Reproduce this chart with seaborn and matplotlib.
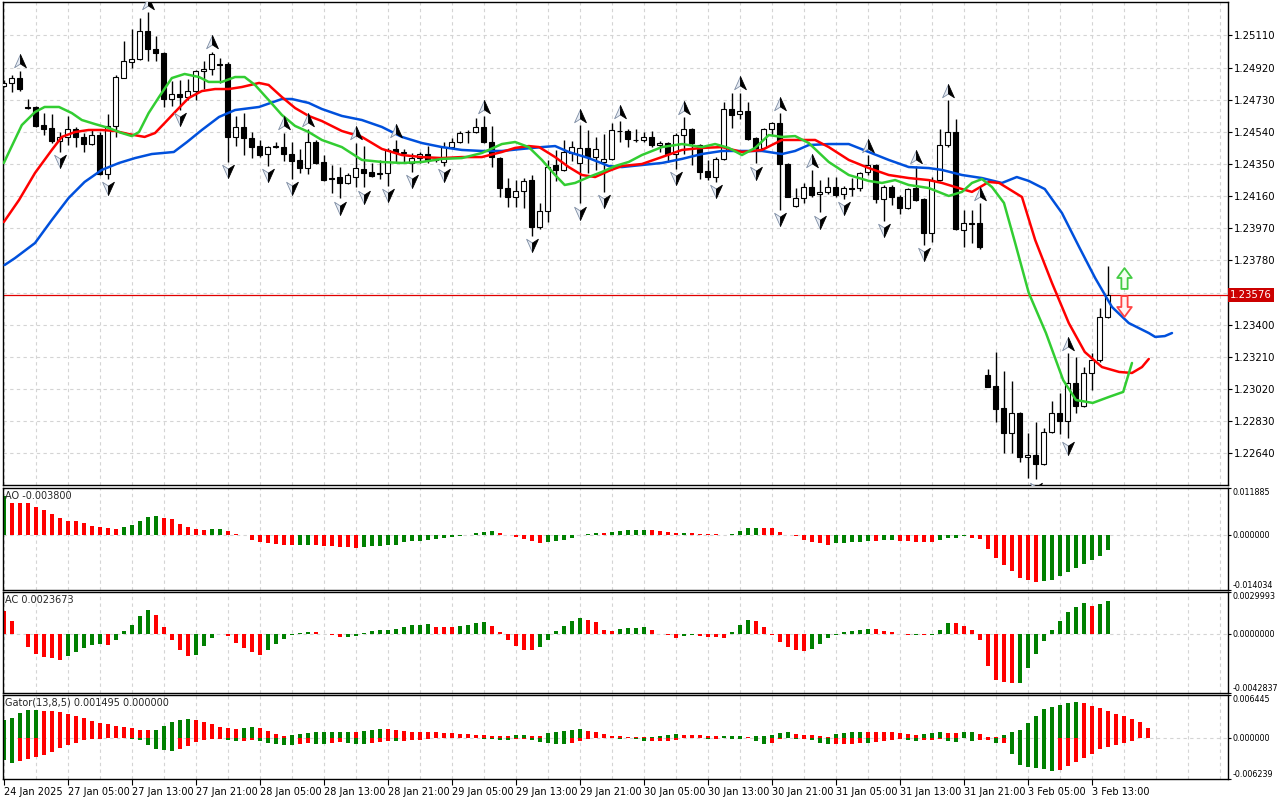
import numpy as np
import matplotlib
matplotlib.use("Agg")
import matplotlib.pyplot as plt
import matplotlib.transforms as mtransforms
from matplotlib.path import Path
import seaborn as sns

# ---------------- data (H1 bars, prices in points: 1 pt = 0.00001) ----------------
open_pts = [124811, 124826, 124856, 124689, 124685, 124580, 124561, 124488, 124507, 124555,
            124507, 124466, 124521, 124289, 124574, 124860, 124955, 124968, 125136, 125027,
            125004, 124732, 124761, 124748, 124781, 124899, 124911, 124941, 124941, 124511,
            124566, 124505, 124458, 124407, 124456, 124452, 124409, 124373, 124324, 124482,
            124364, 124268, 124272, 124236, 124272, 124321, 124301, 124289, 124299, 124437,
            124413, 124354, 124384, 124408, 124382, 124364, 124453, 124478, 124538, 124538,
            124571, 124482, 124384, 124207, 124153, 124191, 124256, 123976, 124075, 124344,
            124315, 124417, 124354, 124443, 124390, 124364, 124378, 124545, 124545, 124494,
            124492, 124512, 124463, 124476, 124410, 124520, 124555, 124463, 124309, 124272,
            124380, 124673, 124646, 124666, 124502, 124443, 124555, 124595, 124350, 124104,
            124147, 124216, 124173, 124187, 124216, 124173, 124209, 124207, 124305, 124344,
            124142, 124216, 124157, 124088, 124207, 124142, 123941, 124256, 124463, 124541,
            123960, 124002, 124003, 123103, 123038, 122906, 122762, 122877, 122617, 122630,
            122577, 122768, 122880, 122833, 123057, 122920, 123117, 123192, 123444]
high_pts = [124846, 124876, 124901, 124732, 124692, 124653, 124643, 124541, 124633, 124570,
            124531, 124551, 124541, 124643, 124876, 125077, 125146, 125211, 125248, 125106,
            125014, 124840, 124846, 124850, 124905, 124958, 125014, 124974, 124955, 124633,
            124653, 124541, 124492, 124456, 124482, 124535, 124482, 124436, 124555, 124492,
            124404, 124344, 124335, 124295, 124476, 124457, 124358, 124374, 124443, 124492,
            124437, 124413, 124423, 124457, 124394, 124482, 124502, 124547, 124551, 124620,
            124634, 124575, 124390, 124266, 124256, 124266, 124285, 124122, 124374, 124433,
            124492, 124488, 124581, 124551, 124512, 124528, 124591, 124604, 124555, 124555,
            124541, 124547, 124486, 124482, 124532, 124626, 124561, 124469, 124374, 124394,
            124719, 124768, 124772, 124719, 124508, 124565, 124600, 124650, 124354, 124207,
            124240, 124315, 124256, 124276, 124276, 124220, 124266, 124305, 124404, 124350,
            124226, 124226, 124167, 124207, 124339, 124147, 124276, 124555, 124729, 124614,
            124080, 124080, 124118, 123137, 123241, 123128, 123069, 122883, 122762, 122827,
            122788, 122951, 122998, 123231, 123208, 123152, 123235, 123497, 123747]
low_pts = [124803, 124777, 124783, 124677, 124566, 124521, 124476, 124423, 124462, 124452,
           124423, 124462, 124285, 124261, 124511, 124856, 124915, 124964, 124958, 124958,
           124689, 124692, 124669, 124728, 124728, 124791, 124876, 124830, 124364, 124456,
           124403, 124387, 124393, 124340, 124442, 124370, 124261, 124295, 124291, 124350,
           124252, 124181, 124147, 124232, 124216, 124212, 124276, 124260, 124220, 124364,
           124364, 124305, 124354, 124354, 124364, 124339, 124449, 124473, 124476, 124532,
           124473, 124335, 124157, 124098, 124098, 124088, 123927, 123964, 124010, 124252,
           124311, 124370, 124118, 124295, 124315, 124187, 124374, 124482, 124449, 124478,
           124482, 124449, 124423, 124364, 124321, 124410, 124344, 124260, 124256, 124246,
           124374, 124561, 124614, 124492, 124354, 124437, 124522, 124078, 124153, 124094,
           124118, 124157, 124065, 124173, 124157, 124142, 124161, 124193, 124285, 124118,
           124016, 124108, 124055, 124082, 124134, 123872, 123891, 124252, 124453, 123960,
           123858, 123881, 123850, 123030, 122827, 122644, 122644, 122591, 122493, 122487,
           122570, 122760, 122754, 122729, 122880, 122916, 123014, 123182, 123438]
close_pts = [124830, 124856, 124791, 124683, 124576, 124559, 124488, 124511, 124555, 124507,
             124466, 124521, 124289, 124574, 124862, 124958, 124968, 125136, 125027, 125004,
             124732, 124761, 124744, 124781, 124899, 124911, 125000, 124935, 124511, 124566,
             124505, 124452, 124403, 124452, 124450, 124407, 124370, 124324, 124482, 124358,
             124256, 124264, 124236, 124285, 124329, 124299, 124281, 124299, 124433, 124419,
             124421, 124384, 124408, 124374, 124376, 124453, 124482, 124535, 124541, 124571,
             124482, 124394, 124207, 124153, 124191, 124252, 123976, 124075, 124335, 124315,
             124419, 124453, 124443, 124394, 124437, 124378, 124551, 124543, 124496, 124490,
             124512, 124463, 124476, 124410, 124520, 124555, 124473, 124305, 124272, 124380,
             124673, 124640, 124666, 124496, 124443, 124555, 124591, 124350, 124157, 124147,
             124216, 124167, 124187, 124216, 124167, 124207, 124205, 124299, 124344, 124142,
             124212, 124157, 124088, 124201, 124138, 123941, 124256, 124463, 124541, 123964,
             124004, 123998, 123858, 123034, 122900, 122762, 122877, 122617, 122630, 122577,
             122768, 122880, 122833, 123057, 122920, 123117, 123192, 123444, 123576]

# Alligator lines (bar position, price in points), shifted forward 8/5/3 bars
jaw_bar = [0.1, 1.4, 3.9, 6.0, 8.1, 10.1, 12.25, 14.4, 16.4, 18.5, 21.25, 22.9, 24.75, 26.9, 28.9,
           31.9, 34.75, 36, 38.1, 39.75, 42.25, 44.75, 47.25, 49.75, 52.25, 54.75, 57.25, 59.75,
           62.25, 64.75, 67.25, 68.9, 70.6, 73.1, 75.6, 77.25, 79.75, 82.25, 84.75, 87.25, 89.75,
           92.25, 94.75, 97.25, 98.9, 100.6, 103.1, 105.6, 108.1, 110.6, 113.1, 115.6, 117.25,
           119.75, 122.25, 124.75, 126.6, 128.1, 130.1, 132.25, 134.4, 136.4, 138.5, 140.6, 143.1,
           143.9, 145.1, 146]
jaw_pts = [123753, 123794, 123883, 124019, 124149, 124244, 124315, 124356, 124385, 124409, 124421,
           124480, 124551, 124628, 124669, 124687, 124734, 124734, 124711, 124675, 124634, 124610,
           124569, 124510, 124474, 124450, 124433, 124427, 124427, 124439, 124450, 124456, 124421,
           124385, 124338, 124332, 124344, 124356, 124380, 124409, 124427, 124427, 124427, 124409,
           124427, 124462, 124468, 124468, 124421, 124374, 124332, 124326, 124315, 124285, 124267,
           124238, 124273, 124250, 124202, 124060, 123859, 123676, 123505, 123410, 123351, 123328,
           123333, 123351]
teeth_bar = [0, 1.9, 3.9, 6, 7.25, 8.9, 10.6, 12.25, 13.9, 15.6, 17.6, 18.9, 20.1, 21.4, 23.1,
             24.75, 26.4, 28.1, 29.75, 31.9, 33.1, 34.75, 36.4, 38.1, 39.75, 42.25, 44.75, 47.25,
             49.75, 52.25, 54.75, 57.25, 59.75, 62.25, 63.9, 65.6, 66.9, 68.9, 70.6, 72.25, 73.9,
             75.6, 77.25, 79.75, 82.25, 84.75, 87.25, 89.75, 92.25, 94.75, 97.25, 99.75, 101.4,
             103.1, 105.6, 108.1, 110.6, 113.1, 115.6, 117.25, 119.75, 121, 123.1, 124.4, 127.25,
             128.9, 131, 133.1, 135.1, 137.25, 139.4, 141, 142.25, 143.1]
teeth_pts = [124007, 124137, 124297, 124433, 124510, 124539, 124551, 124551, 124545, 124527,
             124510, 124533, 124592, 124657, 124740, 124781, 124793, 124793, 124805, 124829,
             124817, 124746, 124681, 124634, 124604, 124545, 124510, 124439, 124403, 124391,
             124385, 124391, 124391, 124421, 124445, 124456, 124450, 124391, 124332, 124285,
             124273, 124309, 124338, 124350, 124391, 124433, 124445, 124450, 124421, 124433,
             124492, 124492, 124492, 124450, 124374, 124326, 124285, 124267, 124255, 124238,
             124202, 124185, 124244, 124238, 124155, 123901, 123647, 123410, 123239, 123150,
             123121, 123115, 123150, 123198]
lips_bar = [0, 2.25, 3.9, 5.1, 6.9, 8.5, 9.75, 11.4, 13.1, 14.75, 16, 16.9, 18.1, 19.4, 21, 22.6,
            24.4, 25.6, 27.25, 28.9, 30.1, 31.4, 33.1, 34.75, 36.4, 38.1, 39.75, 42.25, 44.75,
            47.25, 49.75, 52.25, 54.75, 57.25, 59.75, 62.25, 63.9, 65.6, 67.25, 68.9, 70.1, 71.4,
            73.1, 74.75, 76.4, 78.1, 79.75, 82.25, 84.75, 87.25, 88.9, 90.6, 92.25, 93.9, 95.6,
            97.25, 98.9, 100.6, 103.1, 105.6, 108.1, 109.75, 111.4, 113.1, 115.6, 118.1, 119.75,
            121, 122.25, 123.5, 125, 126.4, 128.1, 130.25, 132.4, 134, 136.1, 138.1, 139.9, 141]
lips_pts = [124356, 124580, 124657, 124687, 124687, 124651, 124610, 124586, 124563, 124533,
            124515, 124539, 124651, 124746, 124858, 124882, 124864, 124835, 124835, 124864,
            124864, 124817, 124728, 124640, 124575, 124539, 124492, 124450, 124374, 124362,
            124356, 124362, 124380, 124385, 124415, 124468, 124480, 124450, 124374, 124285,
            124226, 124238, 124273, 124303, 124338, 124362, 124403, 124450, 124468, 124450,
            124468, 124445, 124403, 124445, 124521, 124510, 124515, 124474, 124362, 124285,
            124250, 124238, 124255, 124226, 124208, 124161, 124185, 124238, 124261, 124214,
            124120, 123883, 123588, 123351, 123073, 122955, 122938, 122973, 123003, 123174]

up_fractals = [2, 18, 26, 35, 38, 44, 49, 60, 72, 77, 85, 92, 97, 101, 108, 114, 118, 122, 133]
down_fractals = [7, 13, 22, 28, 33, 36, 42, 45, 48, 51, 55, 66, 72, 75, 84, 89, 94, 97, 102,
                 105, 110, 115, 129, 133]

# buy / sell signal arrows next to the last bar (bar position, price)
buy_signal = (140, 1.23676)
sell_signal = (140, 1.23508)

ao = [0.0099, 0.0082, 0.0082, 0.0081, 0.0071, 0.0064, 0.0054, 0.0043, 0.0036, 0.0034,
      0.0029, 0.0023, 0.0020, 0.0016, 0.0015, 0.0021, 0.0025, 0.0036, 0.0046, 0.0048,
      0.0043, 0.0039, 0.0028, 0.0019, 0.0014, 0.0013, 0.0014, 0.00142, 0.0010, 0.0002,
      -0.0001, -0.0013, -0.0019, -0.0022, -0.0024, -0.0025, -0.00255, -0.0025, -0.00248, -0.0026,
      -0.0028, -0.00285, -0.0030, -0.00305, -0.0033, -0.0030, -0.0029, -0.0028, -0.0026, -0.0025,
      -0.0019, -0.0017, -0.0016, -0.0013, -0.0010, -0.0009, -0.0006, -0.0003, -0.0001, 0.0004,
      0.0008, 0.0010, 0.0004, -0.0001, -0.0006, -0.0011, -0.0015, -0.0021, -0.0019, -0.0016,
      -0.0013, -0.0007, -0.0001, 0.0003, 0.0004, 0.00038, 0.0006, 0.0009, 0.0011, 0.00112,
      0.0013, 0.00125, 0.0010, 0.0008, 0.0005, 0.00052, 0.00045, 0.0003, 0.0002, 0.0001,
      0.00005, 0.0003, 0.0010, 0.0016, 0.0018, 0.0017, 0.0016, 0.0008, -0.0001, -0.0003,
      -0.0013, -0.0019, -0.0022, -0.0025, -0.0022, -0.00215, -0.0019, -0.0018, -0.0016, -0.0017,
      -0.0014, -0.00135, -0.0016, -0.0017, -0.00172, -0.0018, -0.0019, -0.0014, -0.0008, -0.0007,
      -0.0004, -0.0008, -0.0011, -0.0036, -0.0058, -0.0076, -0.0093, -0.0111, -0.0116, -0.0119,
      -0.01185, -0.0114, -0.0106, -0.0094, -0.0085, -0.0074, -0.0065, -0.0053, -0.0038]
ac = [0.00166, 0.00094, -0.00002, -0.00098, -0.00146, -0.0017, -0.00178, -0.00192, -0.00163, -0.00134,
      -0.00103, -0.00084, -0.00072, -0.00079, -0.00048, 0.00022, 0.00065, 0.0013, 0.00173, 0.00137,
      0.00046, -0.00048, -0.00115, -0.00163, -0.00151, -0.00091, -0.00031, -0.00002, -0.00019, -0.00067,
      -0.00103, -0.00134, -0.00151, -0.0012, -0.00074, -0.00036, -0.00012, 0.00002, 0.0001, 0.00008,
      -0.00002, -0.00012, -0.00026, -0.00024, -0.00019, 0.00002, 0.00017, 0.00026, 0.00029, 0.00036,
      0.0005, 0.0006, 0.00062, 0.00072, 0.0005, 0.00047, 0.00046, 0.00053, 0.0006, 0.00079,
      0.0008, 0.00058, 0.0001, -0.00046, -0.00091, -0.00115, -0.0012, -0.00098, -0.00043, 0.00017,
      0.00058, 0.00094, 0.00113, 0.001, 0.00082, 0.00029, 0.00017, 0.00036, 0.00037, 0.00038,
      0.00046, 0.00024, -0.00002, -0.00012, -0.00034, -0.00019, -0.00007, -0.00019, -0.00022, -0.00024,
      -0.00029, 0.00014, 0.00065, 0.001, 0.00094, 0.0005, -0.00007, -0.00062, -0.00098, -0.00115,
      -0.00127, -0.00108, -0.00072, -0.00031, -0.00007, 0.0001, 0.00017, 0.00026, 0.00036, 0.00034,
      0.00022, 0.00014, 0.0, -0.0001, -0.00009, -0.00012, -0.00007, 0.00029, 0.00079, 0.00077,
      0.00058, 0.00024, -0.00048, -0.00235, -0.00336, -0.00352, -0.00357, -0.00356, -0.0025, -0.00149,
      -0.00053, 0.00029, 0.00089, 0.00158, 0.00194, 0.00218, 0.002, 0.00211, 0.00237]
gator_up = [0.0026, 0.0030, 0.0038, 0.0042, 0.00425, 0.0041, 0.0040, 0.0039, 0.0036, 0.0032,
            0.0029, 0.0025, 0.0022, 0.0020, 0.0018, 0.0016, 0.0015, 0.0012, 0.00115, 0.0012,
            0.0018, 0.0023, 0.0027, 0.00275, 0.0027, 0.0024, 0.0020, 0.0016, 0.0014, 0.00138,
            0.0014, 0.0016, 0.0014, 0.0010, 0.0006, 0.00025, 0.0004, 0.0006, 0.00075, 0.0008,
            0.00085, 0.00087, 0.0009, 0.00092, 0.00088, 0.0010, 0.0011, 0.0013, 0.00125, 0.0011,
            0.00095, 0.00093, 0.0009, 0.00088, 0.0008, 0.0007, 0.00065, 0.00055, 0.0005, 0.00045,
            0.00035, 0.0003, 0.0002, 0.00018, 0.00035, 0.00036, 0.00025, 0.0002, 0.0007, 0.0009,
            0.00095, 0.0011, 0.00125, 0.0010, 0.0008, 0.0005, 0.0002, 0.00018, 0.00015, 0.0001,
            0.00005, 0.00015, 0.0003, 0.00045, 0.0006, 0.00045, 0.00044, 0.00043, 0.0003, 0.00028,
            0.0003, 0.00031, 0.00032, 0.00015, 0.0003, 0.00032, 0.00045, 0.00075, 0.0009, 0.0006,
            0.00045, 0.00042, 0.0003, 0.00015, 0.0006, 0.00075, 0.0009, 0.00092, 0.0009, 0.00088,
            0.00086, 0.00085, 0.00075, 0.0006, 0.00045, 0.0006, 0.00075, 0.0009, 0.00075, 0.0007,
            0.0009, 0.00092, 0.0006, 0.00005, 0.00003, 0.00045, 0.0009, 0.0011, 0.0022, 0.0033,
            0.0043, 0.0046, 0.0049, 0.0052, 0.0054, 0.0052, 0.0048, 0.0045, 0.0040, 0.0036,
            0.0033, 0.0028, 0.0024, 0.0015]
gator_down = [-0.0033, -0.0038, -0.0035, -0.0032, -0.0029, -0.0026, -0.0021, -0.0016, -0.0011, -0.00085,
              -0.00035, -0.00025, -0.00015, -0.0001, -0.00008, -0.00005, -0.00025, -0.0003, -0.0011, -0.0017,
              -0.0019, -0.0020, -0.0017, -0.0013, -0.00065, -0.0003, -0.00025, -0.00015, -0.0004, -0.00055,
              -0.00045, -0.00035, -0.00055, -0.00075, -0.0009, -0.0011, -0.00112, -0.0009, -0.00075, -0.0009,
              -0.0010, -0.00075, -0.0006, -0.00075, -0.00095, -0.0010, -0.00075, -0.0006, -0.0005, -0.00055,
              -0.00045, -0.0004, -0.0003, -0.00015, -0.0001, -0.00008, -0.00005, -0.00004, -0.00003, -0.0001,
              -0.00025, -0.00026, -0.00035, -0.00036, -0.00025, -0.00015, -0.0004, -0.00065, -0.00085, -0.0009,
              -0.0010, -0.00085, -0.00045, -0.00025, -0.0001, -0.00005, -0.0001, -0.00025, -0.0001, -0.00025,
              -0.00055, -0.00054, -0.00053, -0.00052, -0.0003, -0.00008, -0.00005, -0.00004, -0.0002, -0.00019,
              -0.00005, -0.00025, -0.00026, -0.00005, -0.00055, -0.0009, -0.00075, -0.0002, -0.0001, -0.00025,
              -0.0002, -0.0004, -0.00085, -0.0010, -0.0009, -0.00089, -0.00088, -0.00075, -0.00078, -0.0006,
              -0.00045, -0.0003, -0.00025, -0.0004, -0.00055, -0.0004, -0.0003, -0.0002, -0.00055, -0.0007,
              -0.0001, -0.00055, -0.0004, -0.00035, -0.00085, -0.0008, -0.0025, -0.0041, -0.0045, -0.0046,
              -0.0048, -0.0050, -0.0049, -0.0043, -0.0037, -0.0030, -0.0024, -0.0017, -0.0014, -0.0011,
              -0.0008, -0.00055]

price_ticks = [1.25110, 1.24920, 1.24730, 1.24540, 1.24350, 1.24160, 1.23970, 1.23780,
               1.23590, 1.23400, 1.23210, 1.23020, 1.22830, 1.22640]
last_price = 1.23576
time_labels = ["24 Jan 2025", "27 Jan 05:00", "27 Jan 13:00", "27 Jan 21:00", "28 Jan 05:00",
               "28 Jan 13:00", "28 Jan 21:00", "29 Jan 05:00", "29 Jan 13:00", "29 Jan 21:00",
               "30 Jan 05:00", "30 Jan 13:00", "30 Jan 21:00", "31 Jan 05:00", "31 Jan 13:00",
               "31 Jan 21:00", "3 Feb 05:00", "3 Feb 13:00"]
ao_range = (-0.014034, 0.011885)
ac_range = (-0.0042837, 0.0029993)
gator_range = (-0.006239, 0.006445)

# ---------------- style ----------------
sns.set_style("white")
plt.rcParams['font.family'] = ['DejaVu Sans']
GREEN = '#008000'
RED = '#ff0000'
GRID = dict(color='#d4d4d4', lw=0.8, ls=(0, (3, 3)), zorder=0)
XMIN, XMAX = -0.1, 153.0


def trend_colors(values, first_up, use_abs=False):
    v = np.abs(values) if use_abs else np.asarray(values)
    cols = [GREEN if first_up else RED]
    for prev, cur in zip(v[:-1], v[1:]):
        cols.append(GREEN if cur > prev else RED)
    return cols


def frame(ax, label_size, tick_len=3, pad=1.5):
    for s in ax.spines.values():
        s.set_color('black')
        s.set_linewidth(1.0)
    ax.set_xlim(XMIN, XMAX)
    for b in range(0, 154, 4):
        ax.axvline(b, **GRID)
    ax.yaxis.tick_right()
    ax.tick_params(axis='y', length=tick_len, width=0.8, labelsize=label_size, pad=pad,
                   colors='black')


def sub_axis(ax, lo, hi, fmt, title):
    frame(ax, 5.8, tick_len=2.5, pad=1.0)
    ax.set_ylim(lo, hi)
    ax.axhline(0, **GRID)
    ax.set_yticks([lo, 0, hi])
    ax.set_yticklabels([fmt % lo, fmt % 0, fmt % hi])
    lbls = ax.get_yticklabels()
    lbls[0].set_va('bottom')
    lbls[-1].set_va('top')
    ax.set_xticks([])
    ax.text(0.002, 0.97, title, transform=ax.transAxes, va='top', ha='left', fontsize=7)


fig = plt.figure(figsize=(12.8, 8), dpi=100)
L, W = 3 / 1280, 1225 / 1280
ax = fig.add_axes([L, 1 - 485 / 800, W, 483 / 800])
ax_ao = fig.add_axes([L, 1 - 590 / 800, W, 102 / 800])
ax_ac = fig.add_axes([L, 1 - 693 / 800, W, 101 / 800])
ax_gt = fig.add_axes([L, 1 - 779 / 800, W, 84 / 800])

# ---------------- main price panel ----------------
frame(ax, 7.3)
ax.set_ylim(1.224529, 1.253074)
for p in price_ticks:
    ax.axhline(p, **GRID)
ax.set_yticks(price_ticks)
ax.set_yticklabels(['' if p == 1.23590 else '%.5f' % p for p in price_ticks])
ax.set_xticks([])

o = np.array(open_pts) / 1e5
h = np.array(high_pts) / 1e5
lo_ = np.array(low_pts) / 1e5
c = np.array(close_pts) / 1e5
bars = np.arange(len(o))

ax.axhline(last_price, color='#e00000', lw=0.9, zorder=1)
ax.vlines(bars, lo_, h, color='black', lw=1.0, zorder=2)
body_bottom = np.minimum(o, c)
body_h = np.maximum(np.abs(c - o), 0.00003)
ax.bar(bars, body_h, bottom=body_bottom, width=0.62,
       color=['white' if cc >= oo else 'black' for oo, cc in zip(o, c)],
       edgecolor='black', linewidth=0.8, zorder=3)

sns.lineplot(x=jaw_bar, y=np.array(jaw_pts) / 1e5, ax=ax, color='#0050dc', lw=1.8,
             estimator=None, sort=False, zorder=4)
sns.lineplot(x=teeth_bar, y=np.array(teeth_pts) / 1e5, ax=ax, color='#ff0000', lw=1.8,
             estimator=None, sort=False, zorder=4)
sns.lineplot(x=lips_bar, y=np.array(lips_pts) / 1e5, ax=ax, color='#32cd32', lw=1.8,
             estimator=None, sort=False, zorder=4)

# Bill Williams fractal arrows (two-tone arrowheads)
codes = [Path.MOVETO, Path.LINETO, Path.LINETO, Path.CLOSEPOLY]
up_l = Path([(0, 1), (-0.85, -0.9), (0, -0.35), (0, 1)], codes)
up_r = Path([(0, 1), (0, -0.35), (0.85, -0.9), (0, 1)], codes)
dn_l = Path([(0, -1), (-0.85, 0.9), (0, 0.35), (0, -1)], codes)
dn_r = Path([(0, -1), (0, 0.35), (0.85, 0.9), (0, -1)], codes)
fu = np.array(up_fractals)
fd = np.array(down_fractals)
off = 0.00055
for mk, fc, ec in [(up_l, '#e6ebf3', '#7d8ca3'), (up_r, 'black', 'black')]:
    ax.plot(fu, h[fu] + off, ls='none', marker=mk, ms=10, mfc=fc, mec=ec, mew=0.6, zorder=5)
for mk, fc, ec in [(dn_l, '#e6ebf3', '#7d8ca3'), (dn_r, 'black', 'black')]:
    ax.plot(fd, lo_[fd] - off, ls='none', marker=mk, ms=10, mfc=fc, mec=ec, mew=0.6, zorder=5)

# hollow block arrows for the signals
blk_codes = [Path.MOVETO] + [Path.LINETO] * 6 + [Path.CLOSEPOLY]
blk_up = Path([(-0.3, -1), (0.3, -1), (0.3, 0.05), (0.7, 0.05), (0, 1), (-0.7, 0.05),
               (-0.3, 0.05), (-0.3, -1)], blk_codes)
blk_dn = Path([(-0.3, 1), (0.3, 1), (0.3, -0.05), (0.7, -0.05), (0, -1), (-0.7, -0.05),
               (-0.3, -0.05), (-0.3, 1)], blk_codes)
ax.plot([buy_signal[0]], [buy_signal[1]], ls='none', marker=blk_up, ms=15,
        mfc='#f4fff0', mec='#44cc44', mew=1.3, zorder=6)
ax.plot([sell_signal[0]], [sell_signal[1]], ls='none', marker=blk_dn, ms=15,
        mfc='#fff4f4', mec='#ff4444', mew=1.3, zorder=6)

# last price label on the axis
trans = mtransforms.blended_transform_factory(ax.transAxes, ax.transData)
ax.text(1.0015, last_price, '1.23576', transform=trans, ha='left', va='center', color='white',
        fontsize=7.3, zorder=10, clip_on=False,
        bbox=dict(boxstyle='square,pad=0.22', fc='#cc0000', ec='none'))

# ---------------- AO ----------------
sub_axis(ax_ao, ao_range[0], ao_range[1], '%.6f', 'AO -0.003800')
ax_ao.bar(np.arange(len(ao)), ao, width=0.55, color=trend_colors(ao, True), lw=0, zorder=2)

# ---------------- AC ----------------
sub_axis(ax_ac, ac_range[0], ac_range[1], '%.7f', 'AC 0.0023673')
ax_ac.bar(np.arange(len(ac)), ac, width=0.55, color=trend_colors(ac, False), lw=0, zorder=2)

# ---------------- Gator ----------------
sub_axis(ax_gt, gator_range[0], gator_range[1], '%.6f', 'Gator(13,8,5) 0.001495 0.000000')
ax_gt.bar(np.arange(len(gator_up)), gator_up, width=0.55, color=trend_colors(gator_up, True),
          lw=0, zorder=2)
ax_gt.bar(np.arange(len(gator_down)), gator_down, width=0.55,
          color=trend_colors(gator_down, True, use_abs=True), lw=0, zorder=2)
ax_gt.set_xticks(np.arange(len(time_labels)) * 8)
ax_gt.set_xticklabels(time_labels, ha='left', fontsize=7)
ax_gt.tick_params(axis='x', length=4, width=0.8, pad=2, colors='black', bottom=True)

fig.savefig('out.png', dpi=100, facecolor='white')
